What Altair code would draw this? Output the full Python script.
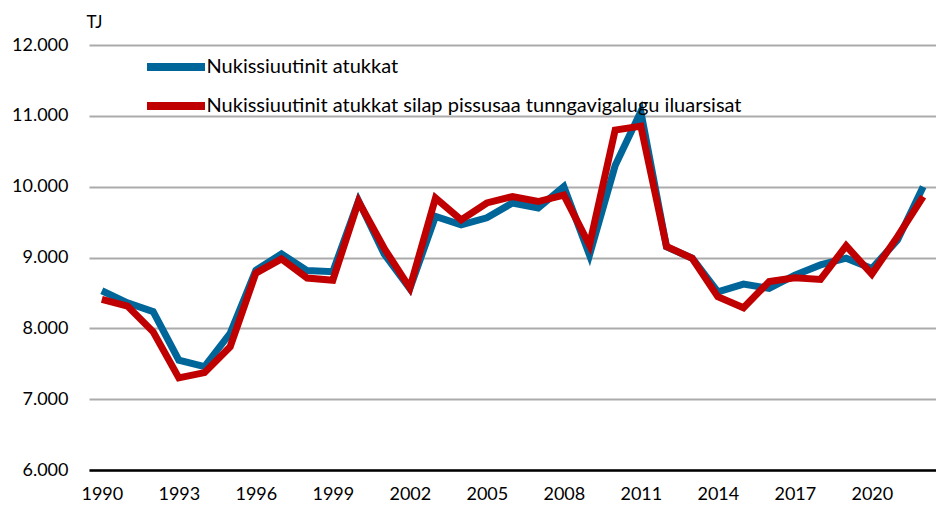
import altair as alt
import pandas as pd

years = list(range(1990, 2023))
series_a = "Nukissiuutinit atukkat"
series_b = "Nukissiuutinit atukkat silap pissusaa tunngavigalugu iluarsisat"

values_a = [8530, 8360, 8235, 7550, 7460, 7930, 8820, 9050, 8815, 8800,
            9800, 9050, 8560, 9580, 9460, 9560, 9770, 9700, 10000, 9035,
            10300, 11060, 9150, 8990, 8515, 8625, 8565, 8750, 8895, 8990,
            8845, 9245, 10000]
values_b = [8410, 8315, 7950, 7300, 7375, 7740, 8780, 8980, 8710, 8680,
            9790, 9130, 8570, 9840, 9530, 9770, 9860, 9790, 9880, 9175,
            10800, 10855, 9155, 8990, 8445, 8290, 8660, 8715, 8690, 9165,
            8765, 9295, 9860]

tick_years = [1990, 1993, 1996, 1999, 2002, 2005, 2008, 2011, 2014, 2017, 2020]
y_ticks = [6000, 7000, 8000, 9000, 10000, 11000, 12000]

df = pd.DataFrame({
    "year": years * 2,
    "value": values_a + values_b,
    "series": [series_a] * len(years) + [series_b] * len(years),
})

font = "Lato"

chart = alt.Chart(df).mark_line(strokeWidth=7, strokeJoin="miter").encode(
    x=alt.X("year:Q",
            scale=alt.Scale(domain=[1989.5, 2022.5], nice=False, zero=False),
            axis=alt.Axis(values=tick_years, format="d", grid=False, ticks=False,
                          domainColor="black", domainWidth=2.5,
                          labelFontSize=18, labelFont=font, labelColor="black",
                          labelPadding=15, title=None, labelFlush=False)),
    y=alt.Y("value:Q",
            scale=alt.Scale(domain=[6000, 12000], nice=False, zero=False),
            axis=alt.Axis(values=y_ticks, domain=False, ticks=False,
                          gridColor="#ABABAB", gridWidth=2,
                          labelExpr="replace(format(datum.value, ','), ',', '.')",
                          labelFontSize=18, labelFont=font, labelColor="black",
                          labelPadding=21,
                          title="TJ", titleAngle=0, titleX=-3, titleY=-23,
                          titleAlign="left", titleBaseline="middle",
                          titleFontSize=17, titleFont=font, titleFontWeight="normal",
                          titleColor="black")),
    color=alt.Color("series:N",
                    scale=alt.Scale(domain=[series_a, series_b],
                                    range=["#006699", "#C00000"]),
                    legend=alt.Legend(title=None, orient="none", legendX=68.5, legendY=3.5,
                                      symbolType="M-2,0H2", symbolSize=841,
                                      symbolStrokeWidth=8, rowPadding=4,
                                      labelFontSize=20, labelFont=font,
                                      labelColor="black", labelOffset=12,
                                      labelLimit=800)),
    order=alt.Order("series:N"),
).properties(
    width=847,
    height=425,
    autosize=alt.AutoSizeParams(type="none"),
    padding={"left": 81, "top": 37, "right": 0, "bottom": 32},
).configure_view(stroke=None)

chart.save("out.html", embed_options={"renderer": "svg", "actions": False})
